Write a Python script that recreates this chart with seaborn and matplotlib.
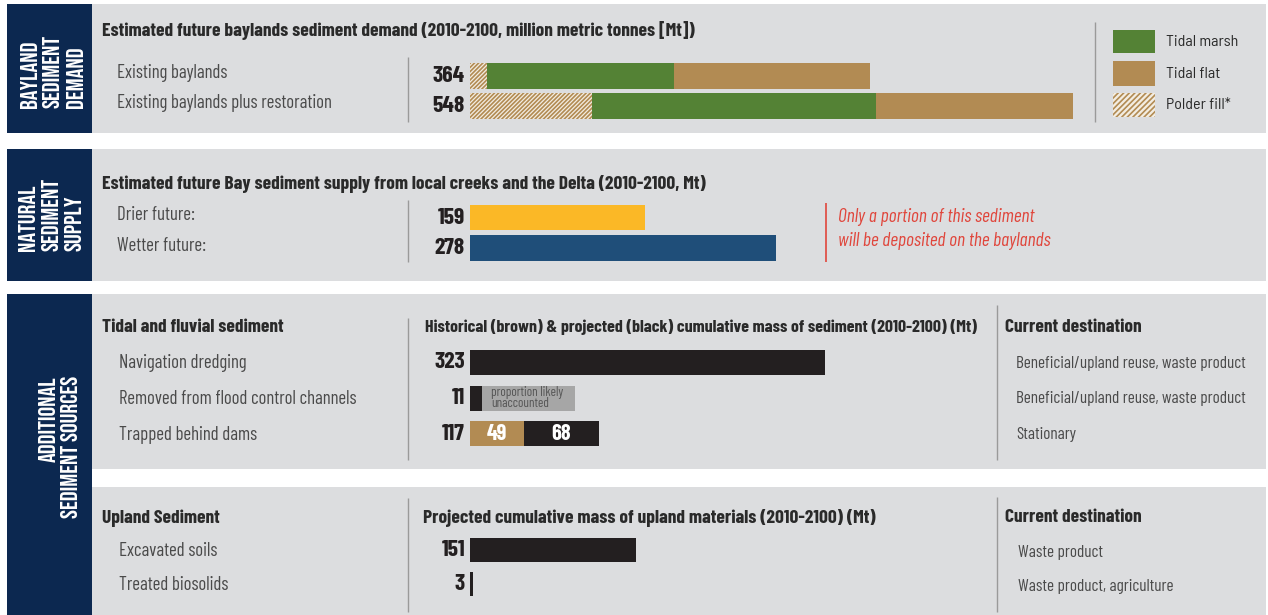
import matplotlib
matplotlib.use("Agg")
import matplotlib.pyplot as plt
import matplotlib.font_manager as fm
from matplotlib.patches import Rectangle
import seaborn as sns

# ---------------- data ----------------
demand_rows = ["Existing baylands", "Existing baylands plus restoration"]
demand_totals = [364, 548]
demand_polder = [15, 111]
demand_marsh = [170, 258]
demand_flat = [179, 179]

supply_rows = ["Drier future:", "Wetter future:"]
supply_values = [159, 278]

fluvial_rows = ["Navigation dredging", "Removed from flood control channels", "Trapped behind dams"]
fluvial_totals = [323, 11, 117]
fluvial_historical = [0, 0, 49]
fluvial_projected = [323, 11, 68]
fluvial_dest = ["Beneficial/upland reuse, waste product",
                "Beneficial/upland reuse, waste product", "Stationary"]

upland_rows = ["Excavated soils", "Treated biosolids"]
upland_values = [151, 3]
upland_dest = ["Waste product", "Waste product, agriculture"]

legend_labels = ["Tidal marsh", "Tidal flat", "Polder fill*"]

# ---------------- style ----------------
sns.set_theme(style="white")
COND = ["Barlow Condensed", "DejaVu Sans"]
LEG = ["Barlow Semi Condensed", "Barlow", "DejaVu Sans"]
plt.rcParams["font.family"] = COND
plt.rcParams["hatch.linewidth"] = 1.2

_names = {f.name for f in fm.fontManager.ttflist}
if "Bebas Neue" in _names:
    SIDE, SIDE_SIZE, SIDE_W = ["Bebas Neue", "Barlow Condensed"], 17.5, "normal"
else:
    SIDE, SIDE_SIZE, SIDE_W = COND, 13, "bold"

BG = "#dcdddf"
NAVY = "#0c2850"
MARSH = "#548235"
FLAT = "#b28b53"
CREAM = "#f3ede2"
GOLD = "#fbb826"
BLUE = "#1f4e79"
BLACK = "#231f20"
GRAYBOX = "#a6a6a6"
RED = "#e0463c"
TXT = "#4a4a4a"
DARK = "#2a2a2a"
SEP = "#9a9a9a"

W, H = 1268, 615
fig = plt.figure(figsize=(W / 100, H / 100), dpi=100)

bg = fig.add_axes([0, 0, 1, 1])
bg.set_xlim(0, W)
bg.set_ylim(H, 0)
bg.axis("off")


def rect(x0, y0, x1, y1, color, **kw):
    bg.add_patch(Rectangle((x0, y0), x1 - x0, y1 - y0, facecolor=color,
                           edgecolor="none", linewidth=0, **kw))


# panels
PX0, PX1 = 92, 1266
rect(PX0, 4, PX1, 133, BG)
rect(7, 4, PX0, 133, NAVY)
rect(PX0, 149, PX1, 281, BG)
rect(7, 149, PX0, 281, NAVY)
rect(PX0, 294, PX1, 469, BG)
rect(PX0, 487, PX1, 615, BG)
rect(7, 294, PX0, 615, NAVY)

# sidebar titles (one text per rotated line)
side_kw = dict(family=SIDE, color="white", fontsize=SIDE_SIZE, fontweight=SIDE_W,
               rotation=90, ha="center")
for x, line in zip([28, 51, 74], ["BAYLAND", "SEDIMENT", "DEMAND"]):
    bg.text(x, 108, line, va="bottom", **side_kw)
for x, line in zip([27, 50, 73], ["NATURAL", "SEDIMENT", "SUPPLY"]):
    bg.text(x, 251, line, va="bottom", **side_kw)
for x, line in zip([47, 70], ["ADDITIONAL", "SEDIMENT SOURCES"]):
    bg.text(x, 376, line, va="top", **side_kw)

# separators
def vline(x, y0, y1, color=SEP, lw=1.0):
    bg.plot([x, x], [y0, y1], color=color, lw=lw, solid_capstyle="butt")

vline(408, 57, 122)
vline(1095, 22, 122)
vline(408, 200, 262)
vline(826, 203, 262, color=RED, lw=1.2)
vline(408, 318, 460)
vline(997, 305, 460)
vline(408, 498, 612)
vline(997, 497, 612)

# titles / headers
title_kw = dict(fontsize=14, fontweight="bold", color=DARK, ha="left", va="center")
bg.text(102, 31, "Estimated future baylands sediment demand (2010-2100, million metric tonnes [Mt])", **title_kw)
bg.text(102, 184, "Estimated future Bay sediment supply from local creeks and the Delta (2010-2100, Mt)", **title_kw)
bg.text(102, 327, "Tidal and fluvial sediment", **title_kw)
bg.text(425, 327, "Historical (brown) & projected (black) cumulative mass of sediment (2010-2100) (Mt)",
        **{**title_kw, "fontsize": 12.9})
bg.text(1005, 327, "Current destination", **title_kw)
bg.text(102, 518, "Upland Sediment", **title_kw)
bg.text(423, 518, "Projected cumulative mass of upland materials (2010-2100) (Mt)", **title_kw)
bg.text(1005, 518, "Current destination", **title_kw)

# red note
note_kw = dict(fontsize=14, style="italic", color=RED, ha="left", va="center")
bg.text(838, 217, "Only a portion of this sediment", **note_kw)
bg.text(838, 241, "will be deposited on the baylands", **note_kw)

# legend swatches
sw = [(30, 53, MARSH, None), (61, 86, FLAT, None), (93, 117, CREAM, "//////")]
for (y0, y1, col, hatch), lab in zip(sw, legend_labels):
    if hatch:
        bg.add_patch(Rectangle((1113, y0), 42, y1 - y0, facecolor=col, edgecolor=FLAT,
                               hatch=hatch, linewidth=0))
    else:
        rect(1113, y0, 1155, y1, col)
    bg.text(1166, (y0 + y1) / 2, lab, family=LEG, fontsize=11.5, color=DARK,
            ha="left", va="center")

# ---------------- bar axes ----------------
PX_PER_MT = 1.1
BAR_X0 = 470
row_kw = dict(fontsize=13.5, color=TXT, ha="left", va="center")
dest_kw = dict(fontsize=12.4, color=TXT, ha="left", va="center")
num_kw = dict(fontsize=17, fontweight="bold", color=BLACK, ha="right", va="center",
              textcoords="offset pixels", xytext=(-5, 0), annotation_clip=False)


def bar_axes(centers, bar_h):
    step = centers[1] - centers[0]
    top = centers[0] - step / 2
    bottom = centers[-1] + step / 2
    wpx = PX1 - BAR_X0
    ax = fig.add_axes([BAR_X0 / W, 1 - bottom / H, wpx / W, (bottom - top) / H])
    ax.set_facecolor("none")
    return ax, bar_h / step, (0, wpx / PX_PER_MT), (len(centers) - 0.5, -0.5)


def finish(ax, xl, yl):
    ax.set_xlim(*xl)
    ax.set_ylim(*yl)
    ax.axis("off")


common = dict(orient="h", saturation=1, errorbar=None, linewidth=0)

# panel 1: demand (stacked by overlaying cumulative sums)
c1 = [75.5, 106]
ax1, bw, xl, yl = bar_axes(c1, 26)
cum_marsh = [p + m for p, m in zip(demand_polder, demand_marsh)]
cum_total = [c + f for c, f in zip(cum_marsh, demand_flat)]
sns.barplot(x=cum_total, y=demand_rows, color=FLAT, width=bw, ax=ax1, **common)
sns.barplot(x=cum_marsh, y=demand_rows, color=MARSH, width=bw, ax=ax1, **common)
sns.barplot(x=demand_polder, y=demand_rows, color=CREAM, width=bw, ax=ax1,
            hatch="////////", edgecolor=FLAT, **common)
for i, v in enumerate(demand_totals):
    ax1.annotate(str(v), xy=(0, i), **num_kw)
finish(ax1, xl, yl)
for cy, lab in zip(c1, demand_rows):
    bg.text(117, cy - 3, lab, **row_kw)

# panel 2: supply
c2 = [217.5, 248]
ax2, bw, xl, yl = bar_axes(c2, 26)
sns.barplot(x=supply_values, y=supply_rows, hue=supply_rows, palette=[GOLD, BLUE],
            legend=False, width=bw, ax=ax2, **common)
for i, v in enumerate(supply_values):
    ax2.annotate(str(v), xy=(0, i), **num_kw)
finish(ax2, xl, yl)
for cy, lab in zip(c2, supply_rows):
    bg.text(117, cy - 2, lab, **row_kw)

# panel 3: tidal and fluvial
c3 = [362.5, 398, 433.5]
ax3, bw, xl, yl = bar_axes(c3, 25)
UNACCOUNTED_W = 84  # annotation box length (Mt units)
box = [0, fluvial_totals[1] + UNACCOUNTED_W, 0]
sns.barplot(x=box, y=fluvial_rows, color=GRAYBOX, width=bw, ax=ax3, **common)
sns.barplot(x=fluvial_totals, y=fluvial_rows, color=BLACK, width=bw, ax=ax3, **common)
sns.barplot(x=fluvial_historical, y=fluvial_rows, color=FLAT, width=bw, ax=ax3, **common)
ax3.annotate("proportion likely\nunaccounted", xy=(fluvial_totals[1], 1), xytext=(9, 0),
             textcoords="offset pixels", fontsize=9.5, color="#555555", ha="left",
             va="center", linespacing=0.75)
for i, v in enumerate(fluvial_totals):
    ax3.annotate(str(v), xy=(0, i), **num_kw)
h, p = fluvial_historical[2], fluvial_projected[2]
seg_kw = dict(fontsize=16, fontweight="bold", color="white", ha="center", va="center")
ax3.text(h / 2, 2, str(h), **seg_kw)
ax3.text(h + p / 2, 2, str(p), **seg_kw)
finish(ax3, xl, yl)
for cy, lab, d in zip(c3, fluvial_rows, fluvial_dest):
    bg.text(119, cy + 1, lab, **row_kw)
    bg.text(1016, cy + 1, d, **dest_kw)

# panel 4: upland
c4 = [550, 584]
ax4, bw, xl, yl = bar_axes(c4, 24)
sns.barplot(x=upland_values, y=upland_rows, color=BLACK, width=bw, ax=ax4, **common)
for i, v in enumerate(upland_values):
    ax4.annotate(str(v), xy=(0, i), **num_kw)
finish(ax4, xl, yl)
for cy, lab, d in zip(c4, upland_rows, upland_dest):
    bg.text(119, cy + 1, lab, **row_kw)
    bg.text(1018, cy + 2, d, **dest_kw)

fig.savefig("out.png", dpi=100, facecolor="white")
